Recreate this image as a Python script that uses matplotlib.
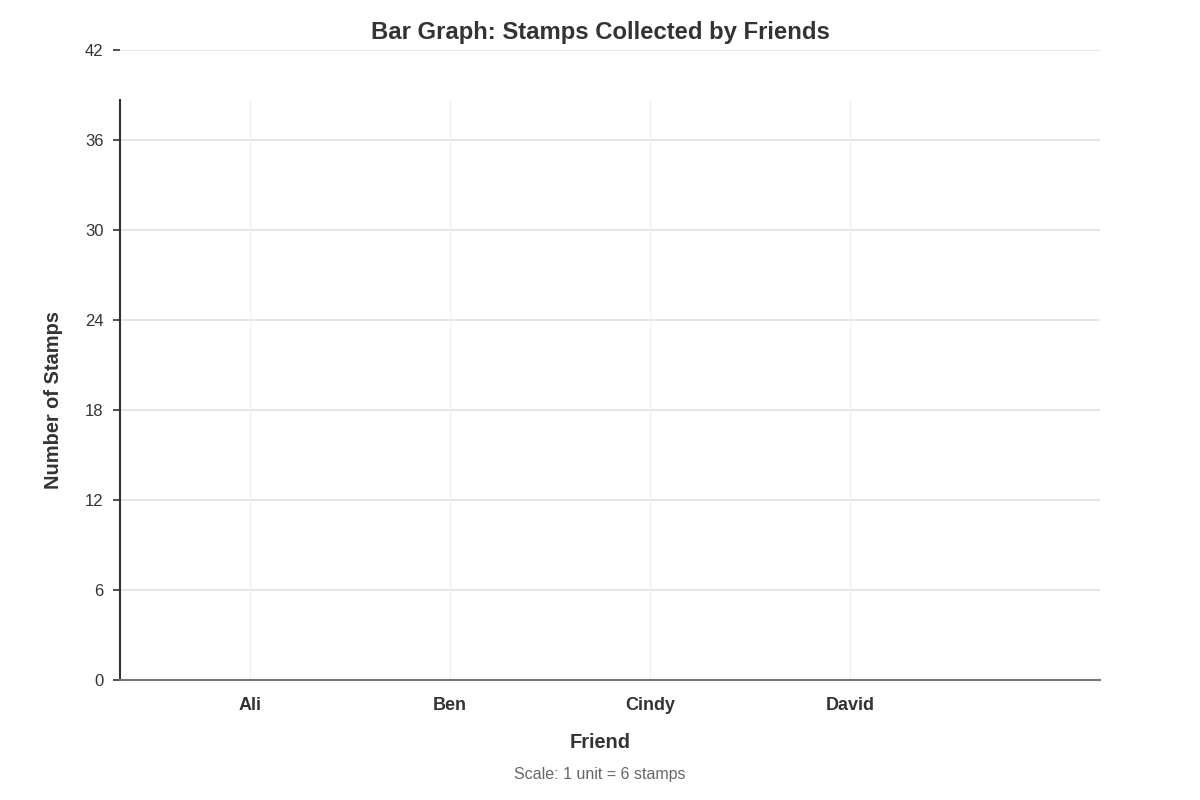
import matplotlib
matplotlib.use("Agg")
import matplotlib.pyplot as plt

friends = ["Ali", "Ben", "Cindy", "David"]
stamps = [0, 0, 0, 0]
y_ticks = [0, 6, 12, 18, 24, 30, 36, 42]

plt.rcParams['font.family'] = ['Liberation Sans', 'DejaVu Sans']

fig = plt.figure(figsize=(12, 8), dpi=100)
ax = fig.add_axes([120/1200, 120/800, 980/1200, 630/800])

x = list(range(len(friends)))
ax.bar(x, stamps, width=0.6, color="#4e79a7", zorder=3)

ax.set_xlim(-0.65, 4.25)
ax.set_ylim(0, 42)
top_plot = (680 - 100) / 15.0

# grid
for t in y_ticks[1:]:
    ax.axhline(t, color="#e0e0e0", lw=1.2, zorder=1)
ax.vlines(x, 0, top_plot, color="#f2f2f2", lw=1.0, zorder=1)

ax.set_yticks(y_ticks)
ax.set_yticklabels([str(t) for t in y_ticks], fontsize=12, color="#333333")
ax.set_xticks(x)
ax.set_xticklabels(friends, fontsize=13, fontweight="bold", color="#333333")
ax.tick_params(axis="x", length=0, pad=12)
ax.tick_params(axis="y", length=5, width=1.2, color="#333333", pad=7)

for s in ["top", "right"]:
    ax.spines[s].set_visible(False)
ax.spines["left"].set_bounds(0, top_plot)
ax.spines["left"].set_color("#333333")
ax.spines["left"].set_linewidth(1.5)
ax.spines["bottom"].set_color("#777777")
ax.spines["bottom"].set_linewidth(1.5)

fig.text(600/1200, 1 - 32/800, "Bar Graph: Stamps Collected by Friends",
         ha="center", va="center", fontsize=17.2, fontweight="bold", color="#333333")
fig.text(54/1200, 1 - 400/800, "Number of Stamps", rotation=90,
         ha="center", va="center", fontsize=14.4, fontweight="bold", color="#333333")
fig.text(600/1200, 1 - 743/800, "Friend",
         ha="center", va="center", fontsize=14.4, fontweight="bold", color="#333333")
fig.text(600/1200, 1 - 775/800, "Scale: 1 unit = 6 stamps",
         ha="center", va="center", fontsize=11.5, color="#666666")

fig.savefig("out.png", dpi=100, facecolor="white")
